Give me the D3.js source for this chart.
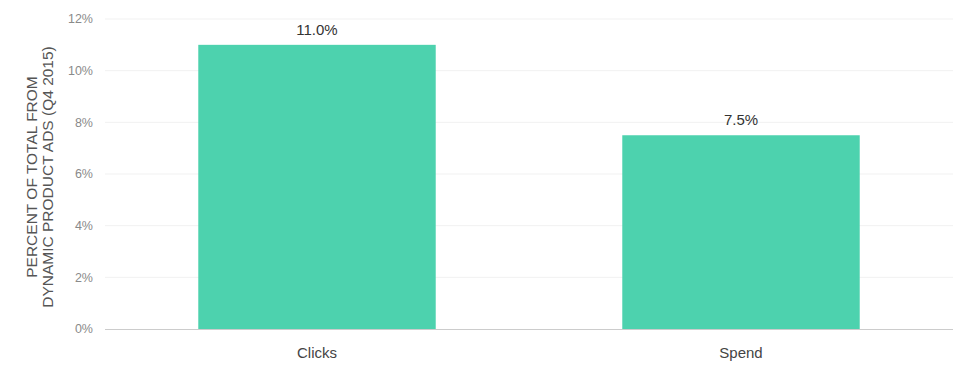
<!DOCTYPE html>
<html>
<head>
<meta charset="utf-8">
<script src="https://cdn.jsdelivr.net/npm/d3@7"></script>
<style>
  body { margin: 0; background: #fff; }
  svg { display: block; font-family: "Liberation Sans", Arial, sans-serif; }
</style>
</head>
<body>
<div id="chart"></div>
<script>
const categories = ["Clicks", "Spend"];
const values = [11.0, 7.5];
const yTicks = [0, 2, 4, 6, 8, 10, 12];
const yTitle = ["PERCENT OF TOTAL FROM", "DYNAMIC PRODUCT ADS (Q4 2015)"];

const width = 975;
const height = 373;
const margin = {top: 19, right: 22, bottom: 44, left: 105};

const svg = d3.select("#chart").append("svg")
  .attr("width", width)
  .attr("height", height)
  .attr("viewBox", [0, 0, width, height]);

const x = d3.scaleBand()
  .domain(categories)
  .range([margin.left, width - margin.right])
  .paddingInner(0.44)
  .paddingOuter(0.22);

const y = d3.scaleLinear()
  .domain([0, 12])
  .range([height - margin.bottom, margin.top]);

// gridlines
svg.append("g")
  .selectAll("line")
  .data(yTicks.filter(d => d > 0))
  .join("line")
  .attr("x1", margin.left)
  .attr("x2", width - margin.right)
  .attr("y1", d => y(d))
  .attr("y2", d => y(d))
  .attr("stroke", "#f1f1f1")
  .attr("stroke-width", 1);

// y tick labels
svg.append("g")
  .selectAll("text")
  .data(yTicks)
  .join("text")
  .attr("x", margin.left - 12)
  .attr("y", d => y(d))
  .attr("dy", "0.35em")
  .attr("text-anchor", "end")
  .attr("fill", "#8a8a8a")
  .attr("font-size", 12.5)
  .text(d => d + "%");

// bars
svg.append("g")
  .selectAll("rect")
  .data(values)
  .join("rect")
  .attr("x", (d, i) => x(categories[i]))
  .attr("y", d => y(d))
  .attr("width", x.bandwidth())
  .attr("height", d => y(0) - y(d))
  .attr("fill", "#4dd2ae");

// value labels
svg.append("g")
  .selectAll("text")
  .data(values)
  .join("text")
  .attr("x", (d, i) => x(categories[i]) + x.bandwidth() / 2)
  .attr("y", d => y(d) - 10)
  .attr("text-anchor", "middle")
  .attr("fill", "#333")
  .attr("font-size", 15)
  .text(d => d.toFixed(1) + "%");

// x axis line
svg.append("line")
  .attr("x1", margin.left)
  .attr("x2", width - margin.right)
  .attr("y1", y(0) + 0.5)
  .attr("y2", y(0) + 0.5)
  .attr("stroke", "#cccccc");

// category labels
svg.append("g")
  .selectAll("text")
  .data(categories)
  .join("text")
  .attr("x", d => x(d) + x.bandwidth() / 2)
  .attr("y", y(0) + 29)
  .attr("text-anchor", "middle")
  .attr("fill", "#444")
  .attr("font-size", 15)
  .text(d => d);

// y title
const title = svg.append("text")
  .attr("transform", `translate(37, ${(margin.top + y(0)) / 2 + 3}) rotate(-90)`)
  .attr("text-anchor", "middle")
  .attr("fill", "#555")
  .attr("font-size", 15.5);

title.selectAll("tspan")
  .data(yTitle)
  .join("tspan")
  .attr("x", 0)
  .attr("dy", (d, i) => i === 0 ? 0 : "1.05em")
  .text(d => d);
</script>
</body>
</html>
